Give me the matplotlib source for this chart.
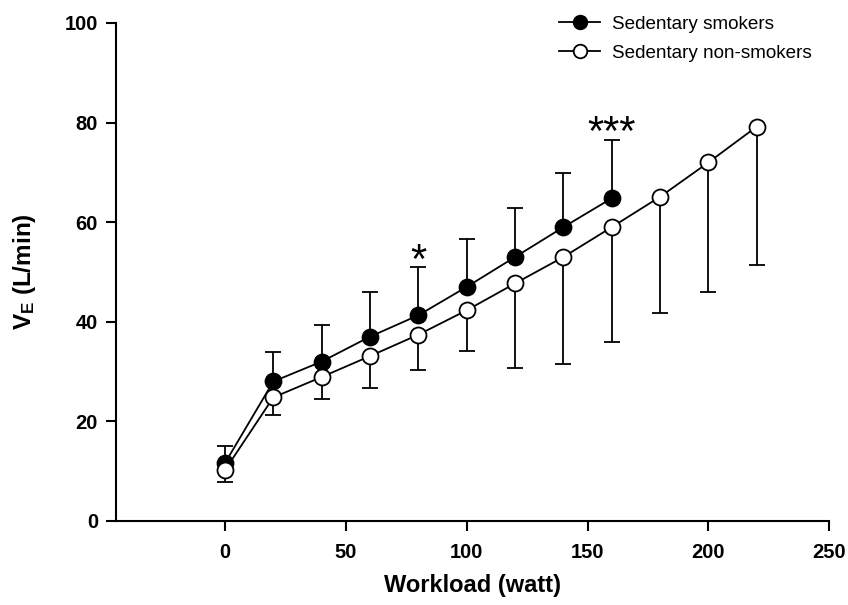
import matplotlib
matplotlib.use('Agg')
import matplotlib.pyplot as plt
import numpy as np

plt.rcParams['font.family'] = ['Liberation Sans', 'DejaVu Sans']
plt.rcParams['mathtext.fontset'] = 'custom'
plt.rcParams['mathtext.rm'] = 'Liberation Sans'
plt.rcParams['mathtext.bf'] = 'Liberation Sans:bold'

# ── Data ──────────────────────────────────────────────────────────────────────
workload_smk = [0, 20, 40, 60, 80, 100, 120, 140, 160]
ve_smk       = [11.6, 28.0, 32.0, 37.0, 41.3, 47.0, 53.0, 59.0, 64.8]
sd_smk_up    = [3.5, 5.9, 7.4, 8.9, 9.6, 9.7, 9.9, 10.8, 11.8]

workload_non = [0, 20, 40, 60, 80, 100, 120, 140, 160, 180, 200, 220]
ve_non       = [10.2, 24.8, 28.9, 33.1, 37.4, 42.3, 47.7, 53.0, 59.0, 65.1, 72.0, 79.2]
sd_non_down  = [2.4, 3.6, 4.4, 6.5, 7.1, 8.2, 17.0, 21.5, 23.0, 23.4, 26.1, 27.8]

star_x      = [80, 160]
star_labels = ['*', '***']

# ── Figure ────────────────────────────────────────────────────────────────────
fig = plt.figure(figsize=(8.48, 6.05), dpi=100)
ax = fig.add_axes([0.137, 0.139, 0.841, 0.823])

lw = 1.3
ms = 11.5

ax.errorbar(workload_smk, ve_smk,
            yerr=[np.zeros(len(sd_smk_up)), sd_smk_up],
            fmt='none', ecolor='black', elinewidth=lw,
            capsize=5.8, capthick=lw, zorder=2)
ax.errorbar(workload_non, ve_non,
            yerr=[sd_non_down, np.zeros(len(sd_non_down))],
            fmt='none', ecolor='black', elinewidth=lw,
            capsize=5.8, capthick=lw, zorder=2)

ax.plot(workload_smk, ve_smk, color='black', lw=lw,
        marker='o', ms=ms, mfc='black', mec='black', mew=lw,
        label='Sedentary smokers', zorder=3)
ax.plot(workload_non, ve_non, color='black', lw=lw,
        marker='o', ms=ms, mfc='white', mec='black', mew=lw,
        label='Sedentary non-smokers', zorder=3)

# significance stars above the smokers' error bars
for sx, lab in zip(star_x, star_labels):
    i = workload_smk.index(sx)
    ax.text(sx, ve_smk[i] + sd_smk_up[i] - 1.2, lab,
            ha='center', va='baseline', fontsize=30)

# ── Axes styling ──────────────────────────────────────────────────────────────
ax.set_xlim(-45, 250)
ax.set_ylim(0, 100)
ax.set_xticks([0, 50, 100, 150, 200, 250])
ax.set_yticks([0, 20, 40, 60, 80, 100])

for side in ['top', 'right']:
    ax.spines[side].set_visible(False)
for side in ['left', 'bottom']:
    ax.spines[side].set_linewidth(1.5)

ax.tick_params(direction='out', length=7, width=1.5, labelsize=14.5)
ax.tick_params(axis='y', pad=6)
ax.tick_params(axis='x', pad=9)
for lab in ax.get_xticklabels() + ax.get_yticklabels():
    lab.set_fontweight('bold')

ax.set_xlabel('Workload (watt)', fontsize=17, fontweight='bold')
ax.set_ylabel(r'$\mathbf{V_E}$ (L/min)', fontsize=17.5, fontweight='bold')
ax.xaxis.set_label_coords(0.499, -0.106)
ax.yaxis.set_label_coords(-0.110, 0.5)

ax.legend(loc='upper left', bbox_to_anchor=(0.659, 0.974),
          bbox_transform=fig.transFigure, frameon=False,
          fontsize=13.6, handlelength=2.2, handletextpad=0.6,
          borderpad=0, borderaxespad=0, labelspacing=0.6,
          markerscale=0.85)

plt.savefig('out.png', dpi=100)
plt.close()
